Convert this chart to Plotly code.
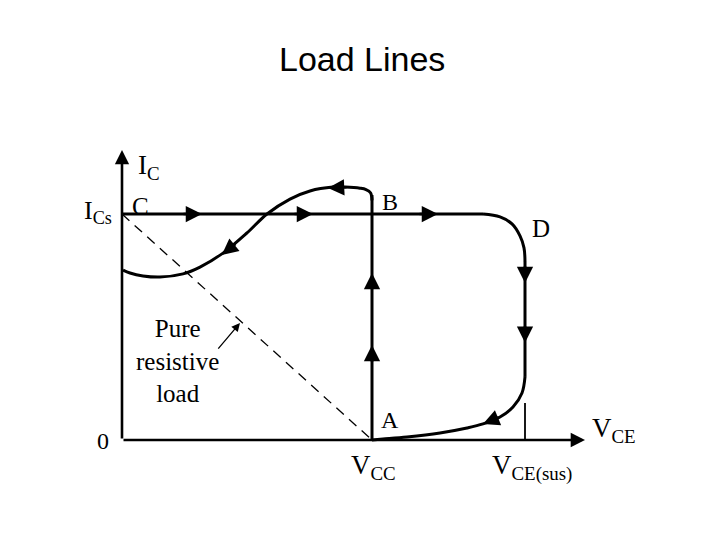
import plotly.graph_objects as go

# Units: collector-emitter voltage with V_CC = 100, collector current with I_Cs = 100
# Path C -> B -> D (switch-off trajectory)
top_x = [0, 144.4]
top_y = [100, 100]
corner_x = [144.4, 151.2, 156.0, 159.2, 160.8, 161.2]
corner_y = [100, 98.7, 95.6, 90.3, 85.0, 78.8]
d_vert_x = [161.2, 161.2]
d_vert_y = [78.8, 27.9]
lower_x = [161.2, 160.0, 156.4, 151.2, 144.4, 138.0, 127.2, 114.0, 104.4, 100.0]
lower_y = [27.9, 20.8, 14.6, 10.2, 7.1, 5.3, 3.1, 1.3, 0.4, 0.0]
# Path A -> B and the turn-on S-curve back to the I axis
ab_x = [100, 100]
ab_y = [0, 108.4]
s_x = [100.0, 99.4, 97.6, 95.2, 89.2, 84.4, 75.2, 67.2, 58.0, 50.0, 40.4, 31.2, 24.4, 15.2, 8.4, 3.2, 0.4]
s_y = [106.0, 109.4, 110.8, 111.4, 111.9, 111.9, 110.2, 106.6, 100.0, 91.6, 82.7, 76.5, 73.5, 72.1, 72.6, 73.9, 75.2]
# Pure resistive load line
res_x = [0, 100]
res_y = [100, 0]
# V_CE(sus) marker
sus_x = [161.2, 161.2]
sus_y = [0, 16.4]

# Direction arrows on the curves: tip and tail points
arrow_tip_x = [32.0, 76.4, 126.4, 82.4, 39.9, 100, 100, 161.2, 161.2, 144.4]
arrow_tip_y = [100, 100, 100, 111.5, 81.9, 73.9, 42.0, 69.5, 43.0, 7.1]
arrow_tail_x = [24.0, 68.4, 118.4, 90.4, 46.0, 100, 100, 161.2, 161.2, 151.2]
arrow_tail_y = [100, 100, 100, 111.9, 87.3, 66.0, 34.0, 77.5, 51.0, 10.2]

# Axis extents
v_axis_end = 185.2
i_axis_end = 128.3

labels = ["I<sub>C</sub>", "I<sub>Cs</sub>", "C", "B", "D", "A", "0",
          "V<sub>CC</sub>", "V<sub>CE(sus)</sub>", "V<sub>CE</sub>",
          "Pure<br>resistive<br>load"]
label_x = [5.6, -3.2, 7.4, 107.0, 167.6, 107.2, -7.6, 100.4, 164.0, 187.0, 22.0]
label_y = [121.0, 101.0, 103.5, 105.3, 93.8, 8.8, -0.4, -12.0, -12.0, 4.4, 34.9]
label_anchor = ["left", "right", "center", "center", "center", "center", "center",
                "center", "center", "left", "center"]
label_size = [27, 26, 25, 24, 25, 24, 24, 27, 27, 27, 25]

pointer_tail = (38.0, 39.8)
pointer_tip = (47.2, 51.8)

# page body has an 8px margin: compensate so the drawing lands where the reference has it
W, H = 712, 532
PX_X, PX_Y = 2.5, 2.26
x0 = -(122 - 8) / PX_X
y1 = (440 - 8) / PX_Y

fig = go.Figure()

def add_line(xs, ys, width=3, shape="linear", dash="solid"):
    line = dict(color="black", width=width, shape=shape, dash=dash)
    if shape == "spline":
        line["smoothing"] = 1.0
    fig.add_trace(go.Scatter(x=xs, y=ys, mode="lines", line=line,
                             hoverinfo="skip", showlegend=False))

add_line(res_x, res_y, width=1.3, dash="10px,7px")
add_line(top_x, top_y)
add_line(corner_x, corner_y, shape="spline")
add_line(d_vert_x, d_vert_y)
add_line(lower_x, lower_y, shape="spline")
add_line(ab_x, ab_y)
add_line(s_x, s_y, shape="spline")
add_line(sus_x, sus_y, width=1.8)

anns = []
# axes as arrows
anns.append(dict(x=v_axis_end, y=0, ax=0, ay=0))
anns.append(dict(x=0, y=i_axis_end, ax=0, ay=0))
for a in anns:
    a.update(xref="x", yref="y", axref="x", ayref="y", text="", showarrow=True,
             arrowhead=2, arrowsize=1.1, arrowwidth=2.6, arrowcolor="black", standoff=0)

for tx, ty, sx, sy in zip(arrow_tip_x, arrow_tip_y, arrow_tail_x, arrow_tail_y):
    anns.append(dict(x=tx, y=ty, ax=sx, ay=sy, xref="x", yref="y", axref="x", ayref="y",
                     text="", showarrow=True, arrowhead=2, arrowsize=1.25, arrowwidth=2.6,
                     arrowcolor="black", standoff=0))

anns.append(dict(x=pointer_tip[0], y=pointer_tip[1], ax=pointer_tail[0], ay=pointer_tail[1],
                 xref="x", yref="y", axref="x", ayref="y", text="", showarrow=True,
                 arrowhead=2, arrowsize=1.3, arrowwidth=1.3, arrowcolor="black", standoff=0))

for t, x, y, anc, s in zip(labels, label_x, label_y, label_anchor, label_size):
    anns.append(dict(x=x, y=y, xref="x", yref="y", text=t, showarrow=False,
                     xanchor=anc, yanchor="middle",
                     font=dict(family="Liberation Serif, Times New Roman, serif", size=s, color="black")))

anns.append(dict(x=(362 - 8) / W, y=1 - (59 - 8) / H, xref="paper", yref="paper", text="Load Lines",
                 showarrow=False, xanchor="center", yanchor="middle",
                 font=dict(family="Liberation Sans, Arial, sans-serif", size=34, color="black")))

fig.update_layout(
    width=W, height=H,
    margin=dict(l=0, r=0, t=0, b=0),
    paper_bgcolor="white", plot_bgcolor="white",
    xaxis=dict(range=[x0, x0 + W / PX_X], visible=False, fixedrange=True),
    yaxis=dict(range=[y1 - H / PX_Y, y1], visible=False, fixedrange=True),
    annotations=anns,
    showlegend=False,
)

fig.write_html("out.html")
